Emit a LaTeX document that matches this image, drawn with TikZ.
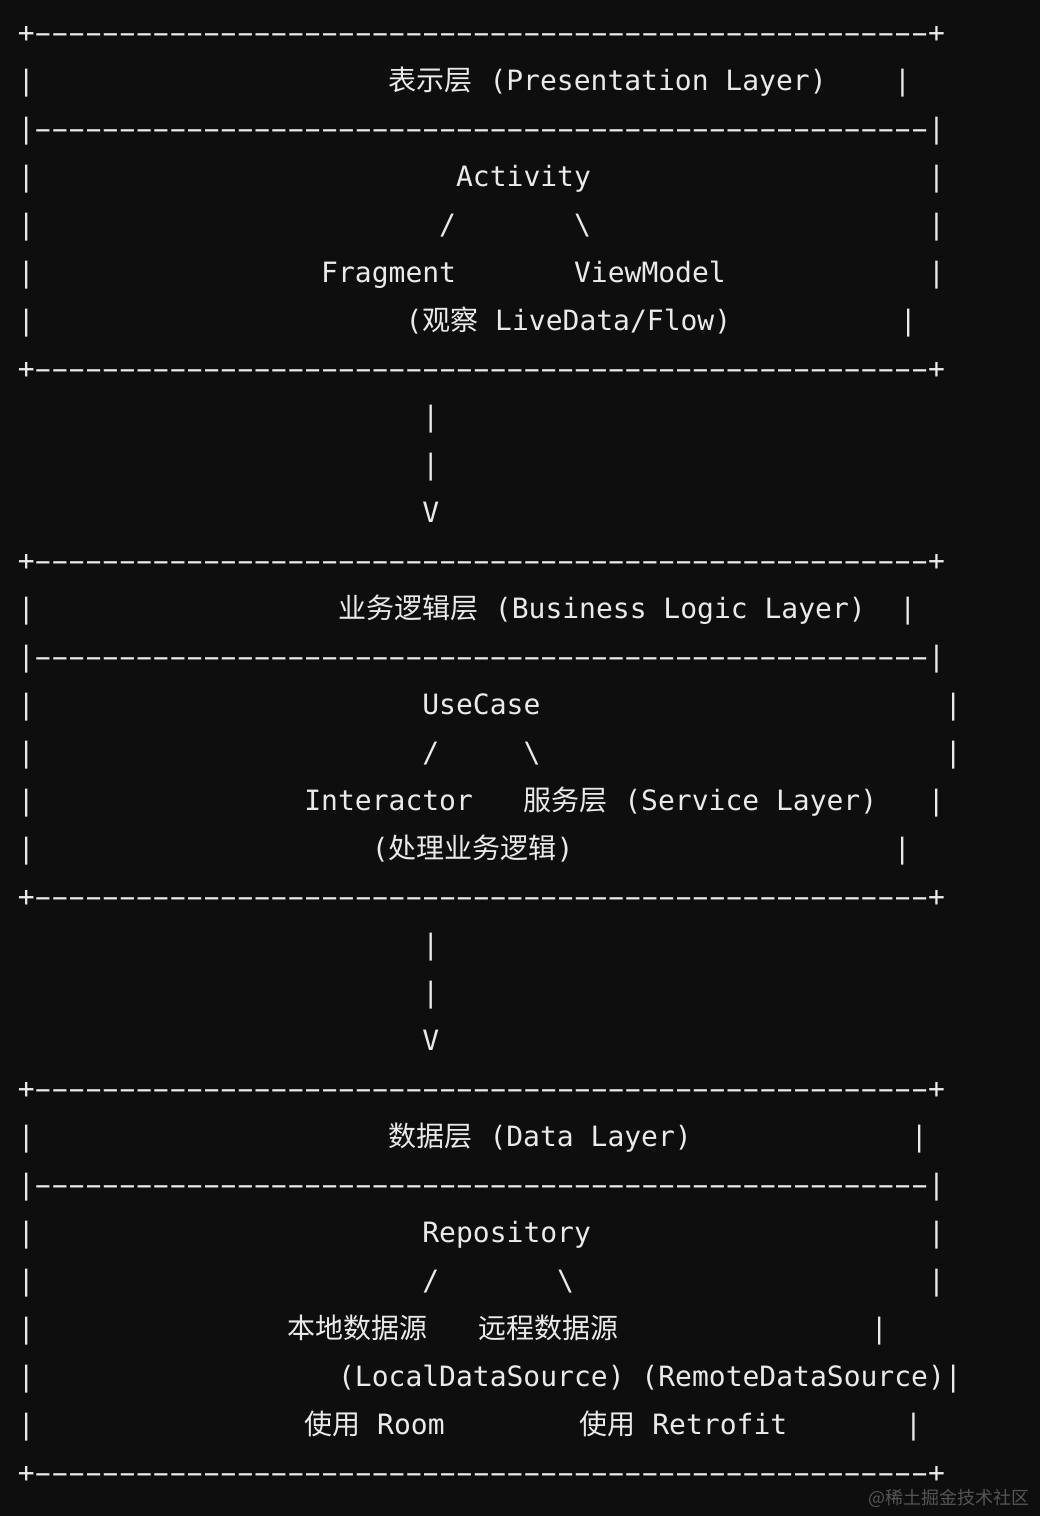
\documentclass[tikz,border=0pt]{standalone}
\usepackage{fontspec}
\setmonofont{DejaVu Sans Mono}
\newfontfamily\cjk{Noto Sans CJK SC}
\definecolor{bg}{HTML}{0E0E0E}
\definecolor{fg}{HTML}{EAEAEA}
\definecolor{mark}{HTML}{555555}
\newlength\cw \setlength\cw{16.857pt}
\newcommand\gap[1]{\hspace*{#1\cw}}
\newcommand\dashes[1]{\foreach\k in {1,...,#1}{\makebox[\cw]{\scalebox{1.85}[1]{-}}}}
\newcommand\zh[1]{{\cjk #1}}

\begin{document}
\begin{tikzpicture}[x=1pt,y=-1pt, txtrow/.style={anchor=base west,inner sep=0pt,text=fg,font=\ttfamily\frenchspacing\fontsize{28}{48}\selectfont}]
  \fill[bg] (0,0) rectangle (1040,1516); \useasboundingbox (0,0) rectangle (1040,1516);
  % presentation layer
  \node[txtrow] (r0) at (17.6,42.5) {+\dashes{53}+};
  \node[txtrow] (r1) at (17.6,90.5) {|\gap{21}\zh{表示层} (Presentation Layer)\gap{4}|};
  \node[txtrow] (r2) at (17.6,138.5) {|\dashes{53}|};
  \node[txtrow] (r3) at (17.6,186.5) {|\gap{25}Activity\gap{20}|};
  \node[txtrow] (r4) at (17.6,234.5) {|\gap{24}/\gap{7}\textbackslash\gap{20}|};
  \node[txtrow] (r5) at (17.6,282.5) {|\gap{17}Fragment\gap{7}ViewModel\gap{12}|};
  \node[txtrow] (r6) at (17.6,330.5) {|\gap{22}(\zh{观察} LiveData/Flow)\gap{10}|};
  \node[txtrow] (r7) at (17.6,378.5) {+\dashes{53}+};
  % arrow down
  \node[txtrow] (r8) at (17.6,426.5) {\gap{24}|};
  \node[txtrow] (r9) at (17.6,474.5) {\gap{24}|};
  \node[txtrow] (r10) at (17.6,522.5) {\gap{24}V};
  % business logic layer
  \node[txtrow] (r11) at (17.6,570.5) {+\dashes{53}+};
  \node[txtrow] (r12) at (17.6,618.5) {|\gap{18}\zh{业务逻辑层} (Business Logic Layer)\gap{2}|};
  \node[txtrow] (r13) at (17.6,666.5) {|\dashes{53}|};
  \node[txtrow] (r14) at (17.6,714.5) {|\gap{23}UseCase\gap{24}|};
  \node[txtrow] (r15) at (17.6,762.5) {|\gap{23}/\gap{5}\textbackslash\gap{24}|};
  \node[txtrow] (r16) at (17.6,810.5) {|\gap{16}Interactor\gap{3}\zh{服务层} (Service Layer)\gap{3}|};
  \node[txtrow] (r17) at (17.6,858.5) {|\gap{20}(\zh{处理业务逻辑})\gap{19}|};
  \node[txtrow] (r18) at (17.6,906.5) {+\dashes{53}+};
  % arrow down
  \node[txtrow] (r19) at (17.6,954.5) {\gap{24}|};
  \node[txtrow] (r20) at (17.6,1002.5) {\gap{24}|};
  \node[txtrow] (r21) at (17.6,1050.5) {\gap{24}V};
  % data layer
  \node[txtrow] (r22) at (17.6,1098.5) {+\dashes{53}+};
  \node[txtrow] (r23) at (17.6,1146.5) {|\gap{21}\zh{数据层} (Data Layer)\gap{13}|};
  \node[txtrow] (r24) at (17.6,1194.5) {|\dashes{53}|};
  \node[txtrow] (r25) at (17.6,1242.5) {|\gap{23}Repository\gap{20}|};
  \node[txtrow] (r26) at (17.6,1290.5) {|\gap{23}/\gap{7}\textbackslash\gap{21}|};
  \node[txtrow] (r27) at (17.6,1338.5) {|\gap{15}\zh{本地数据源}\gap{3}\zh{远程数据源}\gap{15}|};
  \node[txtrow] (r28) at (17.6,1386.5) {|\gap{18}(LocalDataSource) (RemoteDataSource)|};
  \node[txtrow] (r29) at (17.6,1434.5) {|\gap{16}\zh{使用} Room\gap{8}\zh{使用} Retrofit\gap{7}|};
  \node[txtrow] (r30) at (17.6,1482.5) {+\dashes{53}+};
  \node[anchor=base east,inner sep=0pt,text=mark,font=\cjk\fontsize{18}{18}\selectfont] (wm) at (1030,1504) {@稀土掘金技术社区};
\end{tikzpicture}
\end{document}
